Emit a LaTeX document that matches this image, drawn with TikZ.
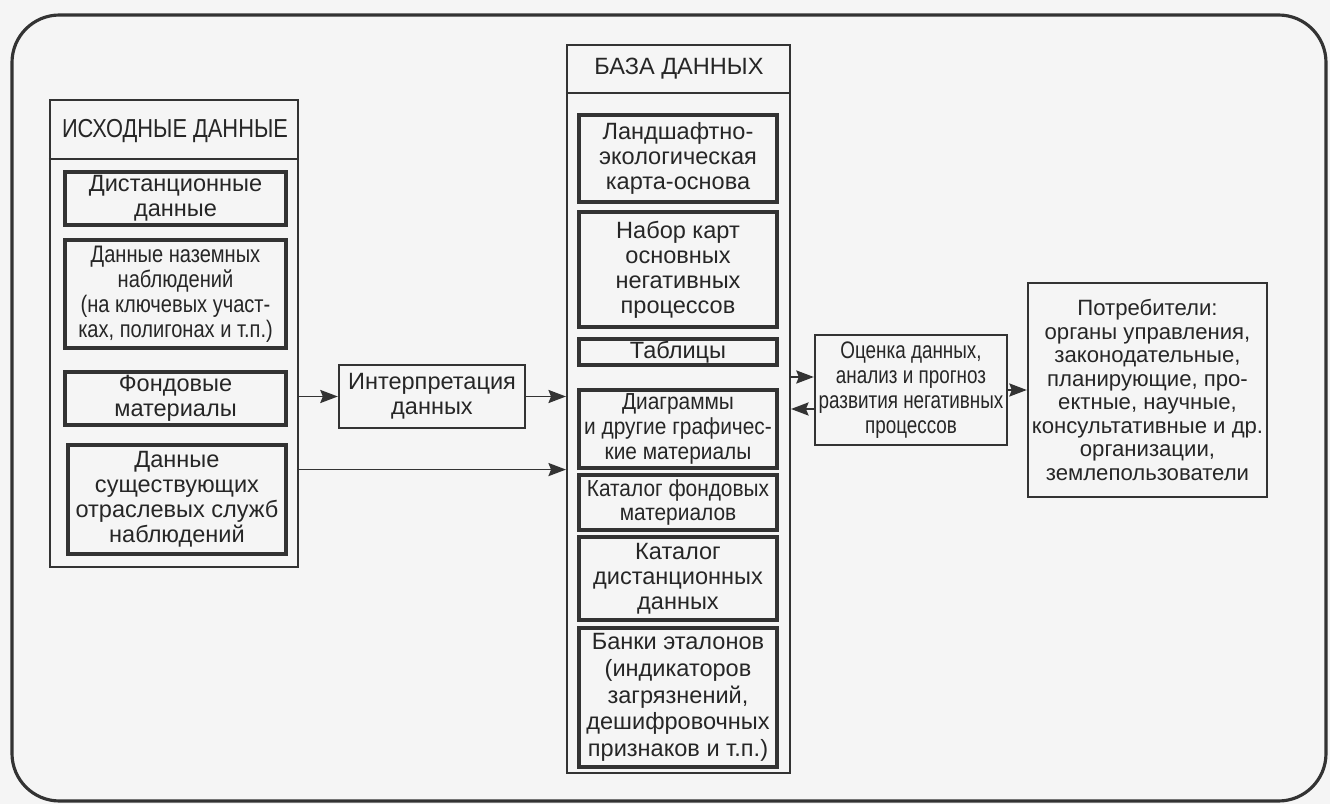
\documentclass[tikz,border=0pt]{standalone}
\usepackage{fontspec}
\setmainfont{Liberation Sans}
\newfontfamily\narrowfont[FakeStretch=0.84]{Liberation Sans}
\newfontfamily\semifont[FakeStretch=0.9]{Liberation Sans}
\newfontfamily\tightfont[FakeStretch=0.79]{Liberation Sans}
\usetikzlibrary{arrows.meta}
\definecolor{ink}{HTML}{333333}
\definecolor{paper}{HTML}{F5F5F5}
\begin{document}
\begin{tikzpicture}[x=0.02cm,y=-0.02cm,
		ink, text=black!85,
		frame/.style={draw=ink, line width=1.8pt, rounded corners=0.95cm},
		cont/.style={draw=ink, line width=1.2pt, inner sep=0pt},
		box/.style={draw=ink, line width=1.8pt, inner sep=0pt, align=center, font=\fontsize{13.4}{14.2}\selectfont},
		midbox/.style={draw=ink, line width=1.4pt, inner sep=0pt, align=center, font=\fontsize{13.4}{14.2}\selectfont},
		narrow/.style={font=\narrowfont\fontsize{13.6}{14.2}\selectfont},
		semi/.style={font=\semifont\fontsize{13.2}{14.2}\selectfont},
		arr/.style={line width=0.9pt, -{Stealth[length=10pt,width=7.5pt,inset=1.5pt]}}]
		\useasboundingbox (0,0) rectangle (1330,804);
		\fill[paper] (0,0) rectangle (1330,804);
		\draw[frame] (12,15) rectangle (1326,801);
		\node[cont, minimum width=4.96cm, minimum height=9.34cm] (src) at (174,333.5) {};
		\draw[cont] (src.west |- 0,159) -- (src.east |- 0,159);
		\node[font=\narrowfont\fontsize{14.8}{15}\selectfont] (srchead) at (175,131) {ИСХОДНЫЕ ДАННЫЕ};
		\node[box, minimum width=4.42cm, minimum height=1.06cm] (src1) at (175.5,198.5) {Дистанционные\\данные};
		\node[box, narrow, minimum width=4.42cm, minimum height=2.16cm] (src2) at (175.5,294) {Данные наземных\\наблюдений\\(на ключевых участ-\\ках, полигонах и т.п.)};
		\node[box, minimum width=4.42cm, minimum height=1.06cm] (src3) at (175.5,398.5) {Фондовые\\материалы};
		\node[box, minimum width=4.36cm, minimum height=2.18cm] (src4) at (177,499.5) {Данные\\существующих\\отраслевых служб\\наблюдений};
		\node[midbox, minimum width=3.72cm, minimum height=1.26cm] (interp) at (432,396.5) {Интерпретация\\данных};
		\node[cont, minimum width=4.46cm, minimum height=14.56cm] (db) at (678.5,409) {};
		\draw[cont] (db.west |- 0,93) -- (db.east |- 0,93);
		\node[font=\fontsize{13.4}{15}\selectfont] (dbhead) at (679,69) {БАЗА ДАННЫХ};
		\node[box, minimum width=3.96cm, minimum height=1.74cm] (db1) at (678,158.5) {Ландшафтно-\\экологическая\\карта-основа};
		\node[box, minimum width=3.96cm, minimum height=2.3cm] (db2) at (678,269.5) {Набор карт\\основных\\негативных\\процессов};
		\node[box, minimum width=3.96cm, minimum height=0.52cm] (db3) at (678,352) {Таблицы};
		\node[box, semi, minimum width=3.96cm, minimum height=1.56cm] (db4) at (678,429) {Диаграммы\\и другие графичес-\\кие материалы};
		\node[box, semi, minimum width=3.96cm, minimum height=1.1cm] (db5) at (678,502.5) {Каталог фондовых\\материалов};
		\node[box, minimum width=3.96cm, minimum height=1.66cm] (db6) at (678,578.5) {Каталог\\дистанционных\\данных};
		\node[box, minimum width=3.96cm, minimum height=2.78cm, font=\fontsize{13.4}{15.2}\selectfont] (db7) at (678,697.5) {Банки эталонов\\(индикаторов\\загрязнений,\\дешифровочных\\признаков и т.п.)};
		\node[midbox, minimum width=3.84cm, minimum height=2.2cm, font=\tightfont\fontsize{13.6}{14.2}\selectfont] (eval) at (911,390) {Оценка данных,\\анализ и прогноз\\развития негативных\\процессов};
		\node[midbox, minimum width=4.78cm, minimum height=4.28cm, font=\fontsize{12.6}{13.4}\selectfont] (users) at (1147.5,390) {Потребители:\\органы управления,\\законодательные,\\планирующие, про-\\ектные, научные,\\консультативные и др.\\организации,\\землепользователи};
		\draw[arr] (interp.west -| src.east) -- (interp.west);
		\draw[arr] (interp.east) -- (interp.east -| db.west);
		\draw[arr] (src.east |- db4.south) -- (db.west |- db4.south);
		\draw[arr] ([yshift=0.26cm]eval.west -| db.east) -- ([yshift=0.26cm]eval.west);
		\draw[arr] ([yshift=-0.38cm]eval.west) -- ([yshift=-0.38cm]eval.west -| db.east);
		\draw[arr] (eval) -- (users);
	\end{tikzpicture}
\end{document}
